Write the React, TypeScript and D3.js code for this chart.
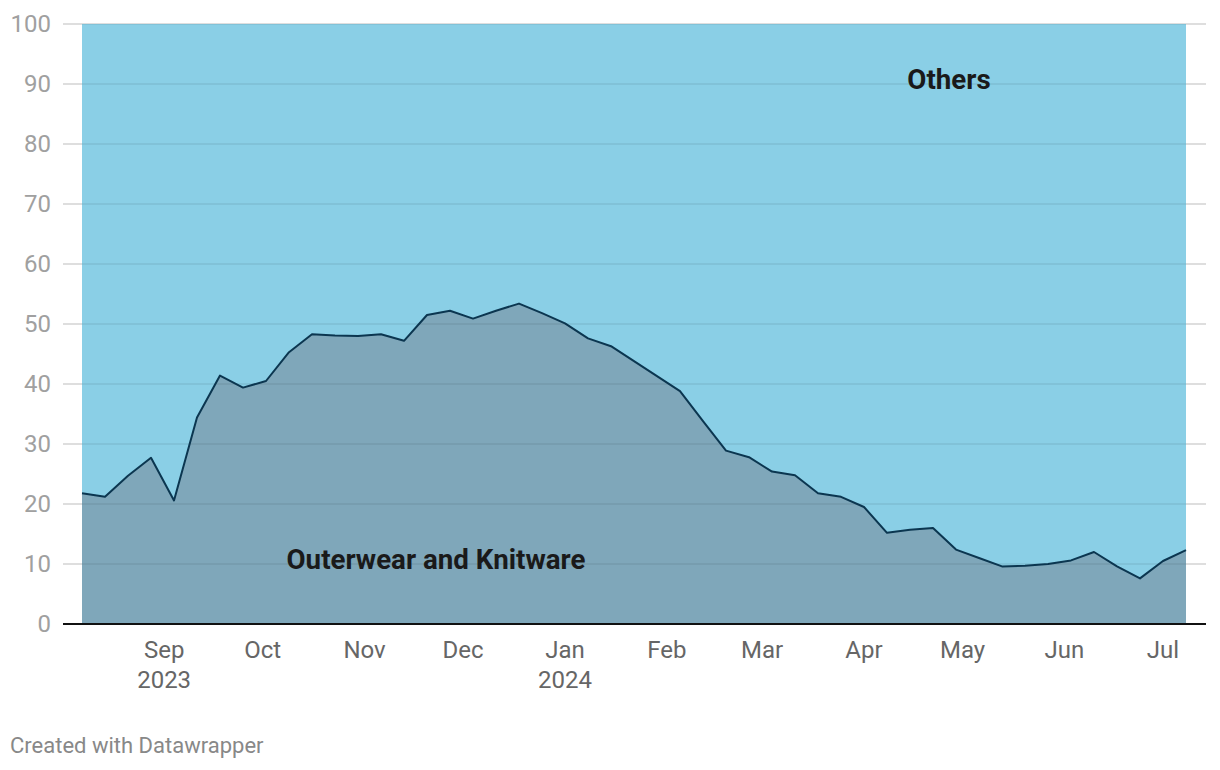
import React from "react";
import * as d3 from "d3";

const startDate = new Date(2023, 7, 7);
const outerwearValues: number[] = [
  21.8, 21.2, 24.7, 27.7, 20.6, 34.4, 41.4, 39.4, 40.5, 45.3,
  48.3, 48.1, 48.0, 48.3, 47.2, 51.5, 52.2, 50.9, 52.2, 53.4,
  51.8, 50.1, 47.6, 46.3, 43.8, 41.3, 38.8, 33.8, 28.9, 27.8,
  25.4, 24.8, 21.8, 21.2, 19.5, 15.2, 15.7, 16.0, 12.4, 11.0,
  9.6, 9.7, 10.0, 10.6, 12.0, 9.6, 7.6, 10.5, 12.3,
];
const yTicks = [0, 10, 20, 30, 40, 50, 60, 70, 80, 90, 100];
const monthTicks = [
  { date: new Date(2023, 8, 1), label: "Sep", year: "2023" },
  { date: new Date(2023, 9, 1), label: "Oct", year: "" },
  { date: new Date(2023, 10, 1), label: "Nov", year: "" },
  { date: new Date(2023, 11, 1), label: "Dec", year: "" },
  { date: new Date(2024, 0, 1), label: "Jan", year: "2024" },
  { date: new Date(2024, 1, 1), label: "Feb", year: "" },
  { date: new Date(2024, 2, 1), label: "Mar", year: "" },
  { date: new Date(2024, 3, 1), label: "Apr", year: "" },
  { date: new Date(2024, 4, 1), label: "May", year: "" },
  { date: new Date(2024, 5, 1), label: "Jun", year: "" },
  { date: new Date(2024, 6, 1), label: "Jul", year: "" },
];
const seriesNames = ["Outerwear and Knitware", "Others"];

const data = outerwearValues.map((v, i) => ({
  date: d3.timeDay.offset(startDate, i * 7),
  value: v,
}));

export default function App() {
  const width = 1220;
  const height = 770;
  const plotLeft = 82;
  const plotRight = 1186;
  const gridLeft = 63;
  const gridRight = 1206;
  const top = 24;
  const bottom = 624;

  const x = d3
    .scaleTime()
    .domain([data[0].date, data[data.length - 1].date])
    .range([plotLeft, plotRight]);
  const y = d3.scaleLinear().domain([0, 100]).range([bottom, top]);

  const areaLower = d3
    .area<{ date: Date; value: number }>()
    .x((d) => x(d.date))
    .y0(y(0))
    .y1((d) => y(d.value));
  const areaUpper = d3
    .area<{ date: Date; value: number }>()
    .x((d) => x(d.date))
    .y0((d) => y(d.value))
    .y1(y(100));
  const line = d3
    .line<{ date: Date; value: number }>()
    .x((d) => x(d.date))
    .y((d) => y(d.value));

  const font = "Roboto, 'Noto Sans', sans-serif";

  return (
    <svg
      width={width}
      height={height}
      style={{ position: "absolute", left: 0, top: 0, background: "#fff" }}
      fontFamily={font}
    >
      {yTicks.map((t) => (
        <line
          key={"gb" + t}
          x1={gridLeft}
          x2={gridRight}
          y1={y(t)}
          y2={y(t)}
          stroke="#e6e6e6"
          strokeWidth={1.5}
        />
      ))}
      <path d={areaUpper(data) || ""} fill="#8acfe6" />
      <path d={areaLower(data) || ""} fill="#7fa7ba" />
      {yTicks.map((t) => (
        <line
          key={"g" + t}
          x1={gridLeft}
          x2={gridRight}
          y1={y(t)}
          y2={y(t)}
          stroke="rgba(0,0,0,0.08)"
          strokeWidth={1.5}
        />
      ))}
      <path d={line(data) || ""} fill="none" stroke="#0b3650" strokeWidth={2} strokeLinejoin="round" />
      <line x1={gridLeft} x2={gridRight} y1={y(0)} y2={y(0)} stroke="#111" strokeWidth={2} />
      {yTicks.map((t) => (
        <text
          key={"yl" + t}
          x={51}
          y={y(t)}
          dy="0.35em"
          textAnchor="end"
          fontSize={24}
          fill="#a0a0a0"
        >
          {t}
        </text>
      ))}
      {monthTicks.map((m) => (
        <g key={m.label}>
          <text x={x(m.date)} y={658} textAnchor="middle" fontSize={24} fill="#666">
            {m.label}
          </text>
          {m.year && (
            <text x={x(m.date)} y={688} textAnchor="middle" fontSize={24} fill="#666">
              {m.year}
            </text>
          )}
        </g>
      ))}
      <text x={949} y={89} textAnchor="middle" fontSize={27.7} fontWeight="bold" fill="#1a1a1a">
        {seriesNames[1]}
      </text>
      <text x={436} y={569} textAnchor="middle" fontSize={27.7} fontWeight="bold" fill="#1a1a1a">
        {seriesNames[0]}
      </text>
      <text x={10} y={753} fontSize={22} fill="#888">
        Created with Datawrapper
      </text>
    </svg>
  );
}
